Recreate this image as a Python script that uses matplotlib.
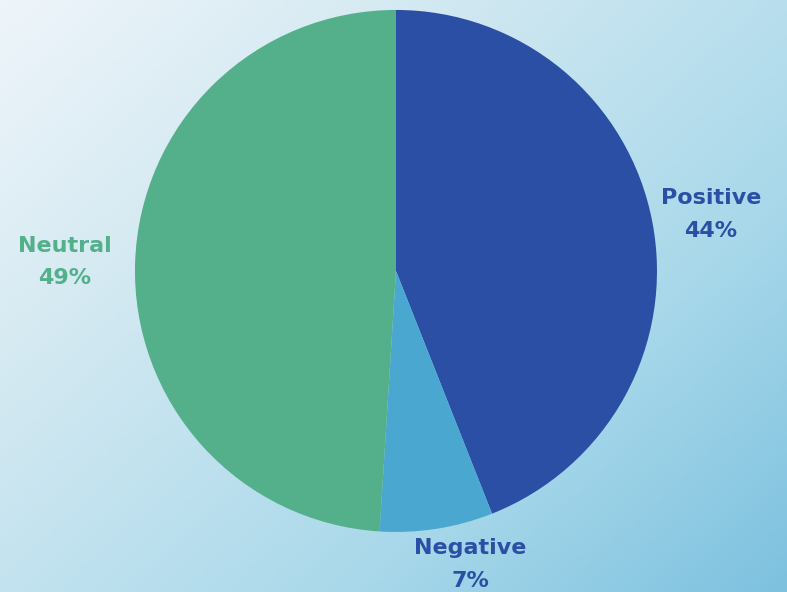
import numpy as np
import matplotlib
matplotlib.use("Agg")
import matplotlib.pyplot as plt
from matplotlib.colors import LinearSegmentedColormap

# sentiment split
labels = ["Positive", "Negative", "Neutral"]
shares = [44, 7, 49]
wedge_colors = ["#2a4fa5", "#4aa8d0", "#53b08a"]
label_colors = ["#2a4fa5", "#2a4fa5", "#53b08a"]
# label anchor points, in pie radius units
label_pos = [(1.207, 0.215), (0.284, -1.126), (-1.268, 0.034)]

fig = plt.figure(figsize=(7.87, 5.92), dpi=100)

# background gradient, light top-left to blue bottom-right
bg = fig.add_axes([0, 0, 1, 1])
bg.set_axis_off()
xx, yy = np.meshgrid(np.linspace(0, 1, 400), np.linspace(0, 1, 300))
t = 0.55 * xx + 0.45 * yy
cmap = LinearSegmentedColormap.from_list(
    "bg", [(0, "#eef5fa"), (0.25, "#d8ebf3"), (0.7, "#a8d8ea"), (1, "#7dc1df")])
bg.imshow(t, cmap=cmap, aspect="auto", extent=[0, 1, 0, 1], origin="upper")

ax = fig.add_axes([0.1715, 0.1014, 0.6633, 0.8818])
ax.pie(shares, colors=wedge_colors, startangle=90, counterclock=False,
       radius=1, wedgeprops=dict(linewidth=0))
ax.set_xlim(-1, 1)
ax.set_ylim(-1, 1)
ax.set_aspect("equal")
ax.set_axis_off()

for name, val, col, (x, y) in zip(labels, shares, label_colors, label_pos):
    ax.text(x, y, f"{name}\n{val}%", color=col, fontsize=16, fontweight="bold",
            ha="center", va="center", linespacing=1.8, clip_on=False)

fig.savefig("out.png", dpi=100)
